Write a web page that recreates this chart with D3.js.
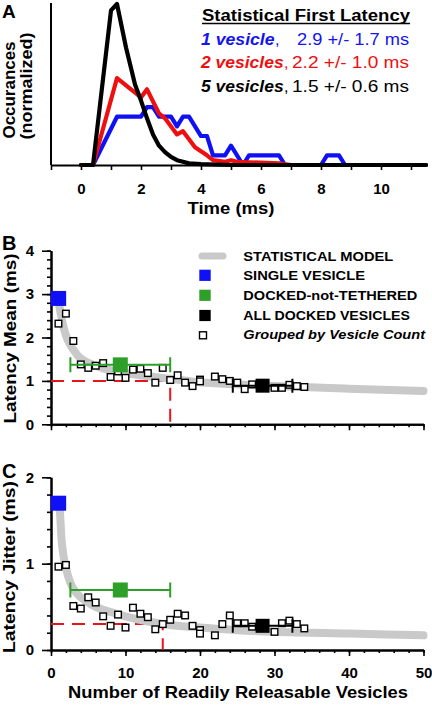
<!DOCTYPE html>
<html><head><meta charset="utf-8">
<script src="https://cdn.jsdelivr.net/npm/d3@7"></script>
<style>html,body{margin:0;padding:0;background:#fff;}svg{display:block;}</style>
</head><body>
<script>
// ---------- DATA ----------
// Panel A: normalized first-latency histograms (time in ms)
const oneVesT   = [0, 0.4, 1.2, 2.0, 2.2, 2.4, 2.6, 3.0, 3.2, 3.4, 3.6, 4.0, 4.2, 4.4, 4.8, 5.0, 5.4, 5.6, 6.6, 6.8, 8.0, 8.2, 8.6, 8.8, 11.5];
const oneVesOcc = [0, 0,   0.30,0.30,0.36,0.36,0.30,0.30,0.24,0.30,0.30,0.18,0.18,0.06,0.06,0.12,0.0, 0.06,0.06,0.0, 0.0, 0.06,0.06,0.0, 0];
const twoVesT   = [0, 0.4, 1.2, 2.0, 2.2, 2.6, 2.8, 3.2, 3.4, 3.8, 4.2, 4.4, 4.8, 5.0, 5.2, 6.6, 7.0, 11.5];
const twoVesOcc = [0, 0,   0.54,0.42,0.47,0.32,0.29,0.19,0.21,0.11,0.06,0.03,0.02,0.03,0.02,0.01,0.0, 0];
const fiveVesT   = [0, 0.4, 1.0, 1.2, 1.5, 1.8, 2.0, 2.2, 2.4, 2.6, 2.8, 3.0, 3.2, 3.4, 3.6, 4.0, 5.0, 11.5];
const fiveVesOcc = [0, 0,   0.96,1.0, 0.73,0.50,0.40,0.29,0.19,0.12,0.08,0.05,0.03,0.02,0.01,0.005,0, 0];
const timeTicks = [-1,0,1,2,3,4,5,6,7,8,9,10,11];
const timeLabels = [0,2,4,6,8,10];
const legendA = [
  {label:"1 vesicle",  stats:"2.9 +/- 1.7 ms", color:"#1414f0"},
  {label:"2 vesicles", stats:"2.2 +/- 1.0 ms", color:"#ee1010"},
  {label:"5 vesicles", stats:"1.5 +/- 0.6 ms", color:"#000000"}
];

// Statistical model curves
const modelMeanN = [1, 1.3, 1.6, 2, 2.5, 3, 3.6, 4.5, 5.5, 7, 9, 12, 16, 20, 25, 30, 40, 50];
const modelMean  = [2.85,2.55,2.3,2.05,1.85,1.72,1.58,1.46,1.38,1.29,1.21,1.13,1.05,0.97,0.92,0.88,0.82,0.77];
const modelJitN  = [1, 1.2, 1.4, 1.7, 2, 2.5, 3, 4, 5, 6, 8, 10, 13, 16, 20, 25, 30, 40, 50];
const modelJit   = [1.72,1.6,1.3,1.08,0.95,0.8,0.71,0.61,0.55,0.50,0.44,0.39,0.33,0.29,0.26,0.23,0.21,0.19,0.17];

// Grouped by vesicle count (open squares)
const groupMeanN = [1,2,3,4,5,6,7,8,9,10,11,12,13,14,15,16,17,18,19,20,20,22,23,24,25,26,27,30,31,32,33,34];
const groupMean  = [2.32,2.55,1.92,1.38,1.30,1.35,1.41,1.09,1.22,1.07,1.26,1.28,1.18,0.96,1.30,1.02,1.13,0.96,0.88,1.03,0.99,1.10,1.04,1.00,0.96,0.81,0.92,0.84,0.84,0.91,0.88,0.86];
const groupJitN  = [1,2,3,4,5,6,7,8,9,10,11,12,13,14,15,16,17,18,19,20,20,22,23,24,25,26,27,30,31,32,33,34];
const groupJit   = [0.965,0.985,0.51,0.48,0.61,0.55,0.39,0.28,0.41,0.26,0.49,0.42,0.38,0.24,0.30,0.35,0.42,0.40,0.28,0.23,0.19,0.17,0.30,0.40,0.31,0.31,0.27,0.21,0.31,0.34,0.30,0.25];

// Summary markers
const singleVesicle = {n:1,   lo:null, hi:null, mean:2.9,  jit:1.70};
const dockedNotTeth = {n:9.3, lo:2.6,  hi:16.0, mean:1.37, jit:0.695};
const allDocked     = {n:28.4,lo:24.4, hi:32.4, mean:0.89, jit:0.28};
// Red dashed reference lines
const refMean = {n:16, v:1.0};
const refJit  = {n:15, v:0.3};

const countTicksMinor = d3.range(0, 51, 2);
const countTicksMajor = [0,10,20,30,40,50];
const meanMajor = [0,1,2,3,4], meanMinor = d3.range(0, 4.01, 0.2);
const jitMajor = [0,1,2], jitMinor = d3.range(0, 2.01, 0.2);

const legendB = [
  {text:"STATISTICAL MODEL", kind:"line"},
  {text:"SINGLE VESICLE", kind:"sq", color:"#1010f5"},
  {text:"DOCKED-not-TETHERED", kind:"sq", color:"#2ea02a"},
  {text:"ALL DOCKED VESICLES", kind:"sq", color:"#000"},
  {text:"Grouped by Vesicle Count", kind:"open"}
];

// ---------- DRAW ----------
const W = 432, H = 706;
const FONT = "'Liberation Sans', Arial, Helvetica, sans-serif";
const svg = d3.select("body").append("svg").attr("width", W).attr("height", H);
const GRAY = "#c9c9c9", BLUE = "#1010f5", GREEN = "#2ea02a", RED = "#e8141c";

function txt(g, x, y, s, o) {
  const t = g.append("text").attr("x", x).attr("y", y).text(s)
    .attr("font-family", FONT).attr("font-size", o.size || 15)
    .attr("font-weight", o.w || "bold").attr("font-style", o.it ? "italic" : "normal")
    .attr("fill", o.color || "#000").attr("text-anchor", o.anchor || "start");
  if (o.len) t.attr("textLength", o.len).attr("lengthAdjust", "spacingAndGlyphs");
  if (o.rot) t.attr("transform", `rotate(-90,${x},${y})`);
  return t;
}
function styleAxis(g) {
  g.select(".domain").attr("stroke", "#000").attr("stroke-width", 2);
  g.selectAll(".tick line").attr("stroke", "#000").attr("stroke-width", 1.6);
  g.selectAll("text").attr("font-family", FONT).attr("font-size", 15).attr("font-weight", "bold").attr("fill", "#000");
}

// ----- Panel A -----
const xA = d3.scaleLinear().domain([-1, 11.5]).range([51, 426]);
const yA = d3.scaleLinear().domain([0, 1]).range([165, 4]);
const gA = svg.append("g");
gA.append("line").attr("x1", 51).attr("x2", 51).attr("y1", 3).attr("y2", 165).attr("stroke", "#000").attr("stroke-width", 2);
const axA = gA.append("g").attr("transform", "translate(0,165)")
  .call(d3.axisBottom(xA).tickValues(timeTicks).tickSize(5).tickSizeOuter(0).tickFormat(d => timeLabels.includes(d) ? d : "").tickPadding(13));
styleAxis(axA);
const lineA = d3.line().x(d => xA(d[0])).y(d => yA(d[1]));
[[oneVesT, oneVesOcc, BLUE], [twoVesT, twoVesOcc, "#ee1010"], [fiveVesT, fiveVesOcc, "#000"]].forEach(([t, v, c]) => {
  gA.append("path").datum(t.map((d, i) => [d, v[i]])).attr("d", lineA)
    .attr("fill", "none").attr("stroke", c).attr("stroke-width", 4.2).attr("stroke-linejoin", "round").attr("stroke-linecap", "round");
});
txt(gA, 231, 213.5, "Time (ms)", {size: 17, anchor: "middle", len: 87});
txt(gA, 15, 90, "Occurances", {size: 17, anchor: "middle", len: 97, rot: true});
txt(gA, 31.5, 86, "(normalized)", {size: 17, anchor: "middle", len: 107, rot: true});
txt(gA, 2, 18, "A", {size: 19});
// legend A
txt(gA, 202, 20.5, "Statistical First Latency", {size: 16, len: 208});
gA.append("line").attr("x1", 202).attr("x2", 410).attr("y1", 23.5).attr("y2", 23.5).attr("stroke", "#000").attr("stroke-width", 1.5);
const lyA = [45, 68, 91.5];
const labLen = [73.6, 82.6, 82.6];
legendA.forEach((d, i) => {
  txt(gA, 201, lyA[i], d.label, {size: 16, it: true, color: d.color, len: labLen[i]});
  txt(gA, 201 + labLen[i] + 0.5, lyA[i], ",", {size: 16, w: "normal", color: d.color});
  txt(gA, 409, lyA[i], d.stats, {size: 16, w: "normal", color: d.color, anchor: "end", len: i === 0 ? 112 : 117});
});

// ----- Panels B and C -----
const xN = d3.scaleLinear().domain([0, 50]).range([51, 423.5]);
function panel(opts) {
  const g = svg.append("g");
  const y = opts.y;
  const y0 = y.range()[0];
  const axMinor = g.append("g").attr("transform", `translate(0,${y0})`)
    .call(d3.axisBottom(xN).tickValues(countTicksMinor).tickSize(3).tickSizeOuter(0).tickFormat(""));
  styleAxis(axMinor);
  const axMajor = g.append("g").attr("transform", `translate(0,${y0})`)
    .call(d3.axisBottom(xN).tickValues(countTicksMajor).tickSize(6).tickSizeOuter(0)
      .tickFormat(opts.xLabels ? d3.format("d") : "").tickPadding(11));
  styleAxis(axMajor);
  const ayMinor = g.append("g").attr("transform", "translate(51,0)")
    .call(d3.axisLeft(y).tickValues(opts.minor).tickSize(4).tickSizeOuter(0).tickFormat(""));
  styleAxis(ayMinor);
  const ayMajor = g.append("g").attr("transform", "translate(51,0)")
    .call(d3.axisLeft(y).tickValues(opts.major).tickSize(9).tickSizeOuter(0).tickFormat(d3.format("d")).tickPadding(8));
  styleAxis(ayMajor);
  const ref = opts.ref;
  g.append("path").attr("d", `M${xN(0)},${y(ref.v)}H${xN(ref.n)}V${y0}`)
    .attr("fill", "none").attr("stroke", RED).attr("stroke-width", 2).attr("stroke-dasharray", "13,8");
  g.append("path").datum(opts.modelN.map((n, i) => [n, opts.model[i]]))
    .attr("d", d3.line().x(d => xN(d[0])).y(d => y(d[1])).curve(d3.curveMonotoneX))
    .attr("fill", "none").attr("stroke", GRAY).attr("stroke-width", 8).attr("stroke-linecap", "round");
  g.selectAll("rect.grp").data(opts.gN.map((n, i) => [n, opts.gV[i]])).join("rect")
    .attr("x", d => xN(d[0]) - 3.3).attr("y", d => y(d[1]) - 3.3).attr("width", 6.6).attr("height", 6.6)
    .attr("fill", "#fff").attr("stroke", "#000").attr("stroke-width", 1.4);
  [[dockedNotTeth, GREEN, 15, 2], [allDocked, "#000", 14, 2]].forEach(([m, c, s, sw]) => {
    const v = m[opts.key], yy = y(v);
    g.append("path").attr("d", `M${xN(m.lo)},${yy - s / 2}V${yy + s / 2}M${xN(m.lo)},${yy}H${xN(m.hi)}M${xN(m.hi)},${yy - s / 2}V${yy + s / 2}`)
      .attr("fill", "none").attr("stroke", c).attr("stroke-width", sw);
    g.append("rect").attr("x", xN(m.n) - s / 2).attr("y", yy - s / 2).attr("width", s).attr("height", s).attr("fill", c);
  });
  g.append("rect").attr("x", xN(singleVesicle.n) - 7.8).attr("y", y(singleVesicle[opts.key]) - 7.5)
    .attr("width", 15.5).attr("height", 15).attr("fill", BLUE);
  txt(g, opts.titleX, opts.titleY, opts.title, {size: 17, anchor: "middle", len: opts.titleLen, rot: true});
  txt(g, 2, opts.letterY, opts.letter, {size: 20});
  return g;
}
const yB = d3.scaleLinear().domain([0, 4]).range([424.3, 250.7]);
const yC = d3.scaleLinear().domain([0, 2]).range([650, 477.3]);
const gB = panel({y: yB, major: meanMajor, minor: meanMinor, xLabels: false, ref: refMean,
  modelN: modelMeanN, model: modelMean, gN: groupMeanN, gV: groupMean, key: "mean",
  title: "Latency Mean (ms)", titleX: 15.5, titleY: 338.5, titleLen: 170, letter: "B", letterY: 250});
const gC = panel({y: yC, major: jitMajor, minor: jitMinor, xLabels: true, ref: refJit,
  modelN: modelJitN, model: modelJit, gN: groupJitN, gV: groupJit, key: "jit",
  title: "Latency Jitter (ms)", titleX: 15, titleY: 567, titleLen: 172, letter: "C", letterY: 478});
txt(gC, 238, 698, "Number of Readily Releasable Vesicles", {size: 16.5, anchor: "middle", len: 340});

// legend B
const lyB = [260.5, 280, 299.5, 319.5, 339];
const mkY = [256, 275.3, 295.3, 315.5, 335.3];
const lensB = [150, 121.7, 174, 166.7, 181.7];
legendB.forEach((d, i) => {
  if (d.kind === "line") {
    gB.append("line").attr("x1", 202).attr("x2", 223).attr("y1", mkY[i]).attr("y2", mkY[i])
      .attr("stroke", GRAY).attr("stroke-width", 7).attr("stroke-linecap", "round");
  } else if (d.kind === "sq") {
    gB.append("rect").attr("x", 199.3).attr("y", mkY[i] - 5.6).attr("width", 11.4).attr("height", 11.2).attr("fill", d.color);
  } else {
    gB.append("rect").attr("x", 199.5).attr("y", mkY[i] - 3.5).attr("width", 7).attr("height", 7)
      .attr("fill", "#fff").attr("stroke", "#000").attr("stroke-width", 1.4);
  }
  txt(gB, 243.3, lyB[i], d.text, {size: 13.5, it: d.kind === "open", len: lensB[i]});
});
</script>
</body></html>
